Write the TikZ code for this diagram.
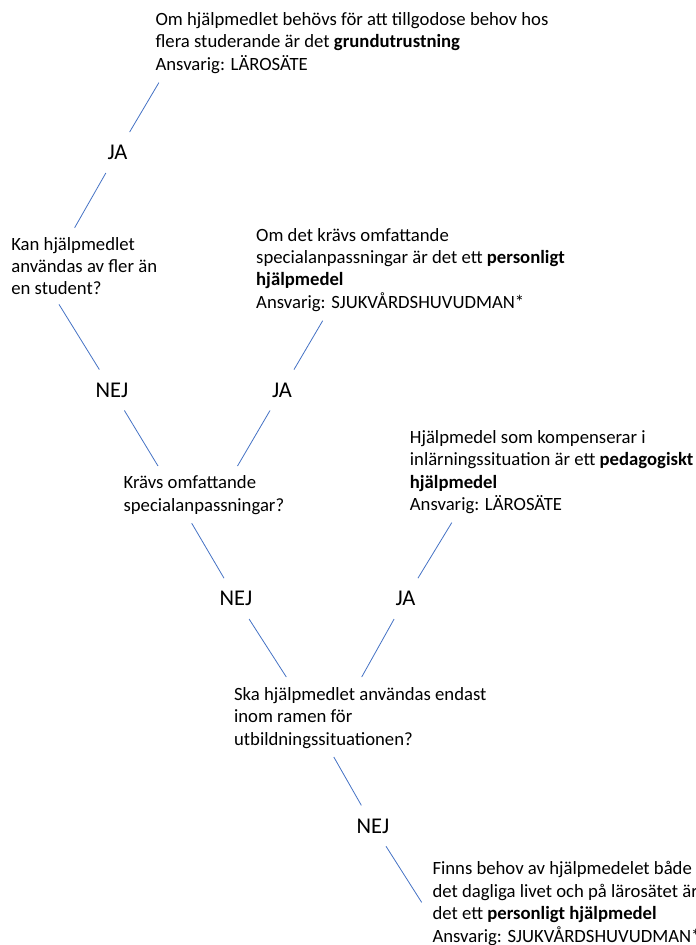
\documentclass[tikz,border=0pt]{standalone}
\usepackage{fontspec}
\setmainfont{Carlito}
\usetikzlibrary{positioning}
\definecolor{grenfarg}{RGB}{68,114,196}

\begin{document}
\begin{tikzpicture}[x=1pt, y=-1pt,
    txt/.style={anchor=north west, inner sep=0pt, align=left,
      font=\fontsize{18.7}{22.4}\selectfont},
    svar/.style={inner xsep=3pt, inner ysep=13pt, text height=14.5pt,
      text depth=0pt, font=\fontsize{22.5}{27}\selectfont},
    gren/.style={draw=grenfarg, line width=0.8pt}]

      \useasboundingbox (0,0) rectangle (696,945);

      % Textblock
      \node[txt] (grund) at (155.4,12.2) {Om hjälpmedlet behövs för att tillgodose behov hos\\flera studerande är det \textbf{grundutrustning}\\Ansvarig: LÄROSÄTE};
      \node[txt] (fraga1) at (11.1,237) {Kan hjälpmedlet\\användas av fler än\\en student?};
      \node[txt] (pers1) at (256,228) {Om det krävs omfattande\\specialanpassningar är det ett \textbf{personligt}\\\textbf{hjälpmedel}\\Ansvarig: SJUKVÅRDSHUVUDMAN*};
      \node[txt] (fraga2) at (123.4,475.5) {Krävs omfattande\\specialanpassningar?};
      \node[txt] (ped) at (409.7,430.3) {Hjälpmedel som kompenserar i\\inlärningssituation är ett \textbf{pedagogiskt}\\\textbf{hjälpmedel}\\Ansvarig: LÄROSÄTE};
      \node[txt] (fraga3) at (233.9,687.2) {Ska hjälpmedlet användas endast\\inom ramen för\\utbildningssituationen?};
      \node[txt] (pers2) at (432.3,861.5) {Finns behov av hjälpmedelet både\\det dagliga livet och på lärosätet är\\det ett \textbf{personligt hjälpmedel}\\Ansvarig: SJUKVÅRDSHUVUDMAN*};

      % Svar
      \node[svar] (ja1) at (117.5,152.5) {JA};
      \node[svar] (nej1) at (112,390) {NEJ};
      \node[svar] (ja2) at (282,390) {JA};
      \node[svar] (nej2) at (236,598.6) {NEJ};
      \node[svar] (ja3) at (405.5,598.6) {JA};
      \node[svar] (nej3) at (373,825.8) {NEJ};

      % Linjernas ändpunkter vid textblocken
      \coordinate (a1) at (158.9,82.6);
      \coordinate (b1) at (74.6,227.8);
      \coordinate (c1) at (59,304.4);
      \coordinate (d1) at (158,466);
      \coordinate (e1) at (322.7,320.7);
      \coordinate (f1) at (237.5,466);
      \coordinate (g1) at (191.7,523.2);
      \coordinate (h1) at (286.3,677);
      \coordinate (i1) at (451.8,522.6);
      \coordinate (j1) at (361.7,677);
      \coordinate (k1) at (333.8,757);
      \coordinate (l1) at (421.7,902.4);

      % Linjer
      \draw[gren] (ja1) -- (a1);
      \draw[gren] (ja1) -- (b1);
      \draw[gren] (nej1) -- (c1);
      \draw[gren] (nej1) -- (d1);
      \draw[gren] (ja2) -- (e1);
      \draw[gren] (ja2) -- (f1);
      \draw[gren] (nej2) -- (g1);
      \draw[gren] (nej2) -- (h1);
      \draw[gren] (ja3) -- (i1);
      \draw[gren] (ja3) -- (j1);
      \draw[gren] (nej3) -- (k1);
      \draw[gren] (nej3) -- (l1);

\end{tikzpicture}
\end{document}
